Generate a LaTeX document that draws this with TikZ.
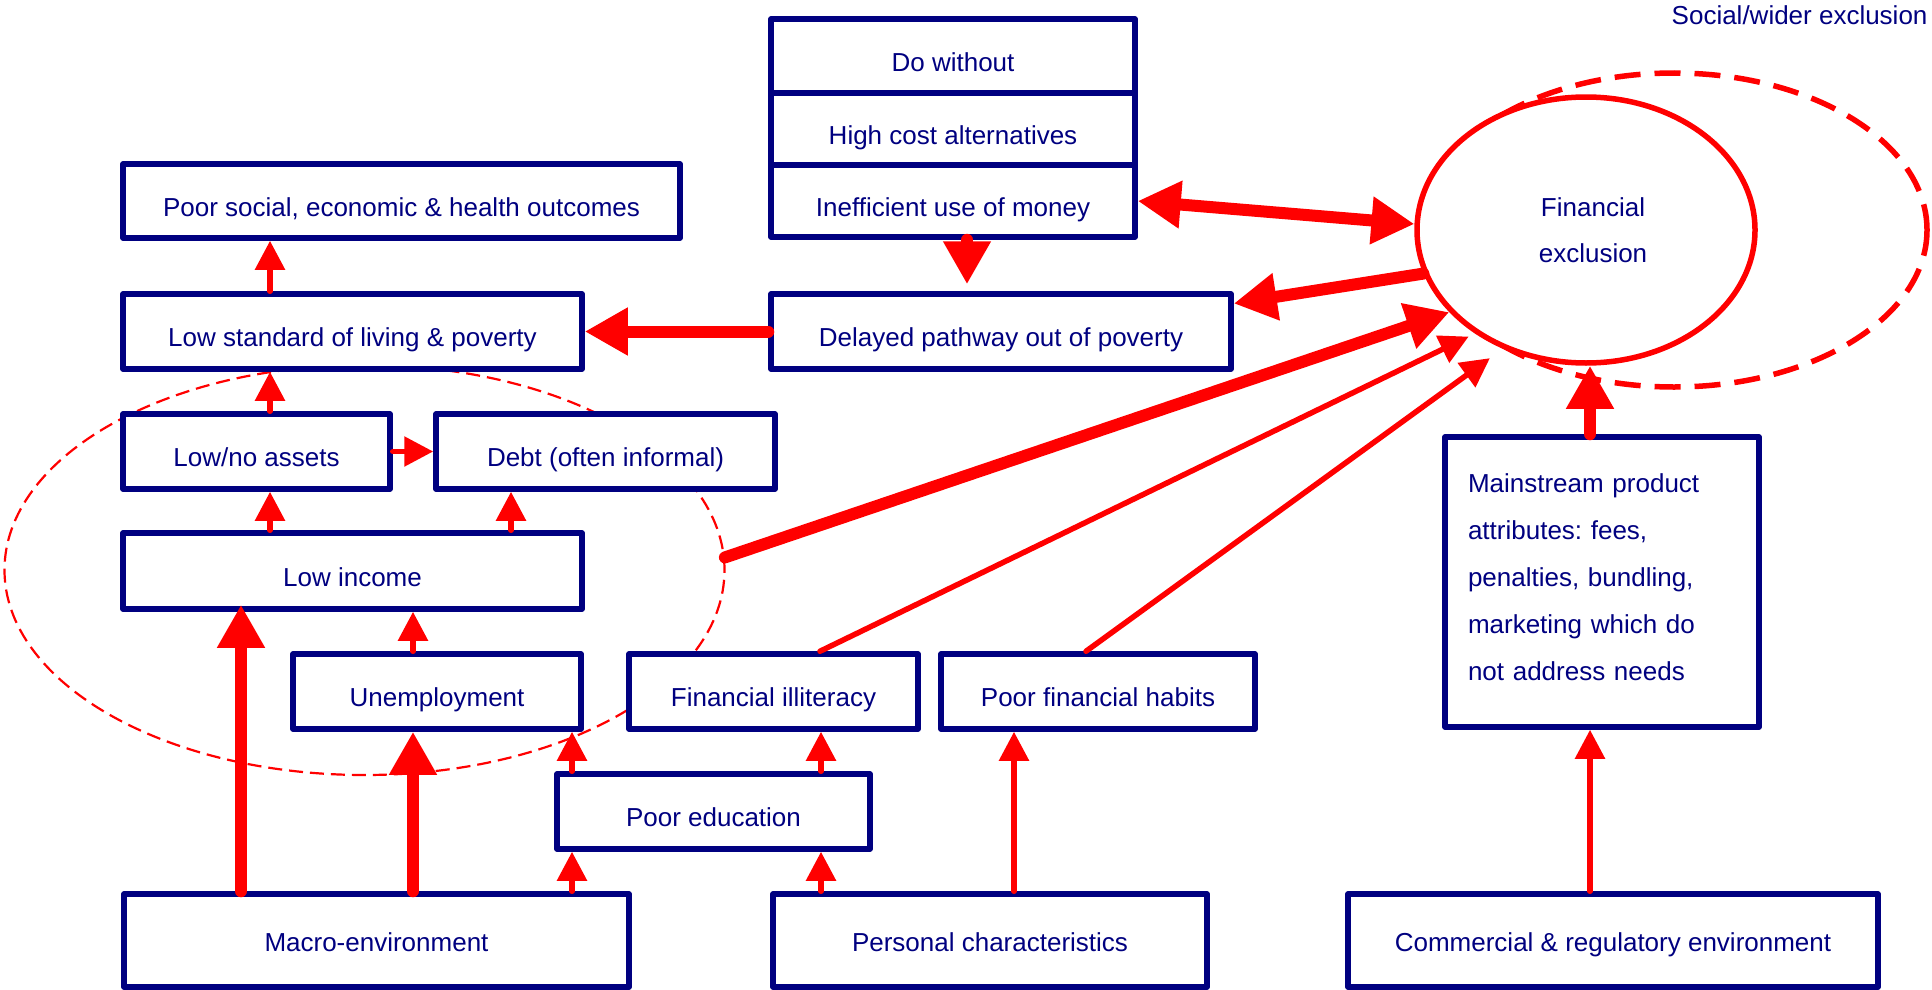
\documentclass[tikz,border=0pt]{standalone}
\usepackage{fontspec}
\setmainfont{Liberation Sans}
\usetikzlibrary{arrows.meta,shapes.geometric}
\definecolor{navy}{RGB}{0,0,128}
\definecolor{xred}{RGB}{255,0,0}
\frenchspacing
\begin{document}
\begin{tikzpicture}[x=1pt,y=-1pt,
  every node/.style={font=\fontsize{26pt}{31pt}\selectfont, text=navy},
  box/.style={draw=navy, line width=5.5pt, line join=round, fill=white, inner sep=0pt, rectangle, text height=30pt, text depth=0pt},
  lowbox/.style={box, text height=21pt},
  sarr/.style={draw=xred, line width=5.5pt, line cap=round, -{Triangle[length=29pt,width=29pt]}},
  barr/.style={draw=xred, line width=12pt, line cap=round, -{Triangle[length=43pt,width=45pt]}},
  darr/.style={draw=xred, line width=12pt, {Triangle[length=43pt,width=45pt]}-{Triangle[length=43pt,width=45pt]}},
]
\useasboundingbox (0,0) rectangle (1932,990);
\fill[white] (0,0) rectangle (1932,990);

% dashed cluster round income/assets/debt
\node[ellipse, draw=xred, line width=2.2pt, dash pattern=on 14pt off 7pt, minimum width=720pt, minimum height=410pt, inner sep=0pt] (cluster) at (364.5,570) {};

% boxes
\node[box, minimum width=557pt, minimum height=74pt] (poorsoc) at (401.5,201) {Poor social, economic \& health outcomes};
\node[box, minimum width=459pt, minimum height=75pt] (lowstd) at (352.5,331.5) {Low standard of living \& poverty};
\node[box, minimum width=364pt, minimum height=74pt] (dowithout) at (953,56) {Do without};
\node[box, minimum width=364pt, minimum height=72pt] (highcost) at (953,129) {High cost alternatives};
\node[box, minimum width=364pt, minimum height=72pt] (ineff) at (953,201) {Inefficient use of money};
\node[box, minimum width=460pt, minimum height=75pt] (delayed) at (1001,331.5) {Delayed pathway out of poverty};
\node[box, minimum width=267pt, minimum height=75pt] (lowno) at (256.5,451.5) {Low/no assets};
\node[box, minimum width=339pt, minimum height=75pt] (debt) at (605.5,451.5) {Debt (often informal)};
\node[box, minimum width=459pt, minimum height=76pt] (lowinc) at (352.5,571) {Low income};
\node[box, minimum width=288pt, minimum height=75pt] (unemp) at (437,691.5) {Unemployment};
\node[box, minimum width=289pt, minimum height=75pt] (finilit) at (773.5,691.5) {Financial illiteracy};
\node[box, minimum width=314pt, minimum height=75pt] (habits) at (1098,691.5) {Poor financial habits};
\node[box, minimum width=313pt, minimum height=75pt] (educ) at (713.5,811.5) {Poor education};
\node[lowbox, minimum width=505pt, minimum height=93pt] (macro) at (376.5,940.5) {Macro-environment};
\node[lowbox, minimum width=434pt, minimum height=93pt] (personal) at (990,940.5) {Personal characteristics};
\node[lowbox, minimum width=530pt, minimum height=93pt] (commercial) at (1613,940.5) {Commercial \& regulatory environment};
\node[box, minimum width=314pt, minimum height=290pt, text width=268pt, align=left,
      text height=19pt, text depth=199pt, font=\fontsize{26pt}{47pt}\selectfont] (mainstream) at (1602,582)
  {Mainstream product\\attributes: fees,\\penalties, bundling,\\marketing which do\\not address needs};

% exclusion ellipses
\node[ellipse, draw=xred, line width=5.5pt, dash pattern=on 26pt off 14pt, minimum width=506pt, minimum height=314pt, inner sep=0pt] (social) at (1674,230) {};
\node[ellipse, draw=xred, fill=white, line width=5.5pt, minimum width=338pt, minimum height=266pt, inner sep=0pt, align=center, font=\fontsize{26pt}{46pt}\selectfont] (fin) at (1586,230) {\hspace*{14pt}Financial\\\hspace*{14pt}exclusion};
\node[anchor=base east] (sociallabel) at (1931,25) {Social/wider exclusion};

% x positions of vertical connectors
\coordinate (x241) at (241,0);
\coordinate (x270) at (270,0);
\coordinate (x413) at (413,0);
\coordinate (x511) at (511,0);
\coordinate (x572) at (572,0);
\coordinate (x820) at (820,0);
\coordinate (x821) at (821,0);
\coordinate (x1014) at (1014,0);
\coordinate (x1086) at (1086,0);
\coordinate (x1590) at (1590,0);
\coordinate (p17) at ([xshift=14pt]ineff.south);

% connectors
\draw[sarr] (lowstd.north -| x270) -- (poorsoc.south -| x270);
\draw[sarr] (lowno.north -| x270) -- (lowstd.south -| x270);
\draw[sarr] (lowno.east) -- (debt.west);
\draw[sarr] (lowinc.north -| x270) -- (lowno.south -| x270);
\draw[sarr] (lowinc.north -| x511) -- (debt.south -| x511);
\draw[sarr] (unemp.north -| x413) -- (lowinc.south -| x413);
\draw[barr, shorten >=-7pt] (macro.north -| x241) -- (lowinc.south -| x241);
\draw[barr] (macro.north -| x413) -- (unemp.south -| x413);
\draw[sarr] (educ.north -| x572) -- (unemp.south -| x572);
\draw[sarr] (educ.north -| x821) -- (finilit.south -| x821);
\draw[sarr] (macro.north -| x572) -- (educ.south -| x572);
\draw[sarr] (personal.north -| x821) -- (educ.south -| x821);
\draw[sarr] (personal.north -| x1014) -- (habits.south -| x1014);
\draw[sarr] (commercial.north -| x1590) -- (mainstream.south -| x1590);
\draw[barr] (mainstream.north -| x1590) -- (fin.south -| x1590);
\draw[barr] (delayed.west) -- (lowstd.east);
\draw[barr, shorten >=7pt] (p17) -- (p17 |- delayed.north);
\draw[darr] (ineff.east) -- (fin.178);
\draw[barr] (fin.195) -- ([yshift=28pt]delayed.east);
\draw[barr] (cluster.2) -- (fin.211);
\draw[sarr, shorten >=7pt] (finilit.north -| x820) -- (fin.223);
\draw[sarr, shorten >=16pt] (habits.north -| x1086) -- (fin.235);
\end{tikzpicture}
\end{document}
